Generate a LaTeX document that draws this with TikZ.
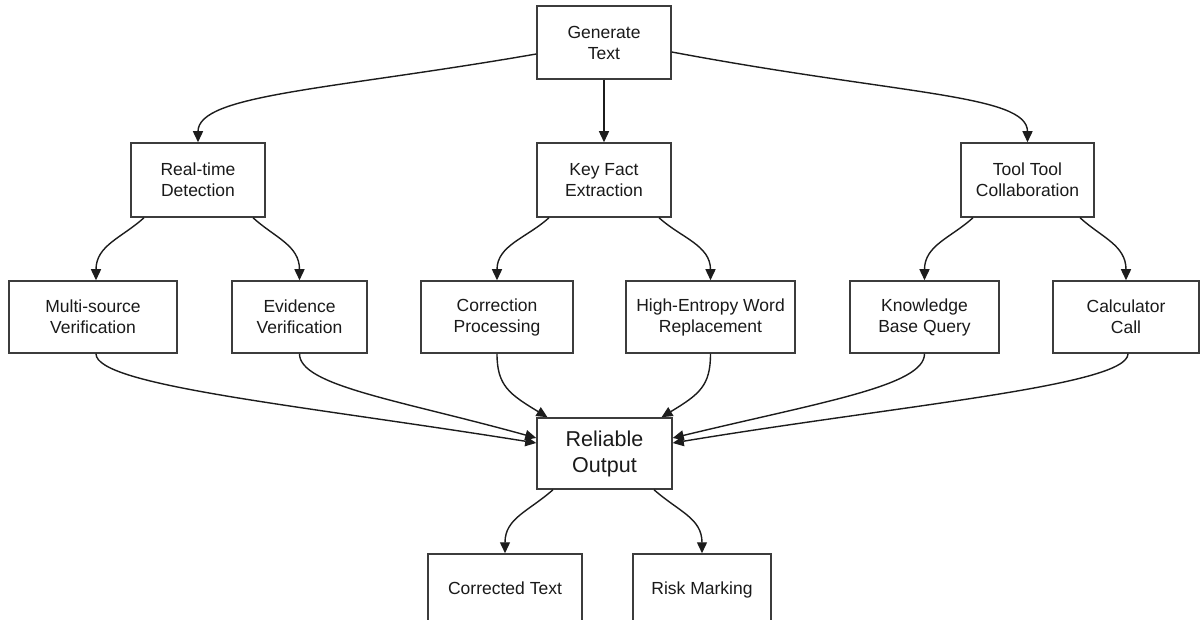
\documentclass[tikz,border=0pt]{standalone}
\usepackage{fontspec}
\setmainfont{Liberation Sans}
\usetikzlibrary{arrows.meta}
\definecolor{boxline}{HTML}{3C3C3C}
\definecolor{linkcol}{HTML}{1C1C1C}
\definecolor{labeltext}{HTML}{1A1A1A}
\begin{document}
\begin{tikzpicture}[x=1pt,y=-1pt,
  box/.style={draw=boxline, line width=1.5pt, fill=white, align=center,
    inner sep=0pt, text=labeltext, font=\fontsize{17.5}{21}\selectfont},
  bigbox/.style={box, font=\fontsize{21.5}{26}\selectfont},
  oneline/.style={text height=12.5pt, text depth=4pt},
  link/.style={draw=linkcol, line width=1.4pt,
    -{Triangle[length=11pt,width=10pt]}}]
\useasboundingbox (0,0) rectangle (1200,620);
\fill[white] (0,0) rectangle (1200,620);
\clip (0,0) rectangle (1200,620);

% top
\node[box, minimum width=134pt, minimum height=73pt] (gen) at (604,42.5) {Generate\\Text};

% second row
\node[box, minimum width=134pt, minimum height=74pt] (rtd) at (198,180) {Real-time\\Detection};
\node[box, minimum width=134pt, minimum height=74pt] (kfe) at (604,180) {Key Fact\\Extraction};
\node[box, minimum width=133pt, minimum height=74pt] (ttc) at (1027.5,180) {Tool Tool\\Collaboration};

% third row
\node[box, minimum width=168pt, minimum height=72pt] (msv) at (93,317) {Multi-source\\Verification};
\node[box, minimum width=135pt, minimum height=72pt] (evv) at (299.5,317) {Evidence\\Verification};
\node[box, minimum width=152pt, minimum height=72pt] (cop) at (497,317) {Correction\\Processing};
\node[box, minimum width=169pt, minimum height=72pt] (hew) at (710.5,317) {High-Entropy Word\\Replacement};
\node[box, minimum width=149pt, minimum height=72pt] (kbq) at (924.5,317) {Knowledge\\Base Query};
\node[box, minimum width=146pt, minimum height=72pt] (cac) at (1126,317) {Calculator\\Call};

% merge point
\node[bigbox, minimum width=135pt, minimum height=71pt] (rel) at (604.5,453.5) {Reliable\\Output};

% results
\node[box, oneline, minimum width=154pt, minimum height=72pt] (cot) at (505,590) {Corrected Text};
\node[box, oneline, minimum width=138pt, minimum height=72pt] (rsk) at (702,590) {Risk Marking};

% fan-out from the generator
\draw[link] ([yshift=-11.5pt]gen.west) .. controls +(-207,36) and +(0,-48) .. (rtd.north);
\draw[link] (gen.south) -- (kfe.north);
\draw[link] ([yshift=-9.5pt]gen.east) .. controls +(229,43) and +(0,-48) .. (ttc.north);

% second row to third row
\draw[link] ([xshift=-54pt]rtd.south) .. controls +(-22,20) and +(0,-35) .. ([xshift=3pt]msv.north);
\draw[link] ([xshift=55pt]rtd.south) .. controls +(22,20) and +(0,-35) .. (evv.north);
\draw[link] ([xshift=-55pt]kfe.south) .. controls +(-22,20) and +(0,-35) .. (cop.north);
\draw[link] ([xshift=55pt]kfe.south) .. controls +(22,20) and +(0,-35) .. (hew.north);
\draw[link] ([xshift=-54.5pt]ttc.south) .. controls +(-22,20) and +(0,-35) .. (kbq.north);
\draw[link] ([xshift=52.5pt]ttc.south) .. controls +(22,20) and +(0,-35) .. (cac.north);

% third row into the merge point
\draw[link] ([xshift=3pt]msv.south) .. controls +(0,32) and +(-237,-38) .. ([yshift=10.5pt]rel.west);
\draw[link] (evv.south) .. controls +(0,32) and +(-137,-38) .. ([yshift=15.5pt]rel.west);
\draw[link] (cop.south) .. controls +(0,32) and +(-38,-23) .. ([xshift=-57pt]rel.north);
\draw[link] (hew.south) .. controls +(0,32) and +(38,-23) .. ([xshift=57pt]rel.north);
\draw[link] (kbq.south) .. controls +(0,32) and +(149,-36) .. ([yshift=15.5pt]rel.east);
\draw[link] ([xshift=2pt]cac.south) .. controls +(0,32) and +(229,-38) .. ([yshift=10.5pt]rel.east);

% merge point to results
\draw[link] ([xshift=-51.5pt]rel.south) .. controls +(-25,22) and +(0,-35) .. (cot.north);
\draw[link] ([xshift=49.5pt]rel.south) .. controls +(25,22) and +(0,-35) .. (rsk.north);
\end{tikzpicture}
\end{document}
